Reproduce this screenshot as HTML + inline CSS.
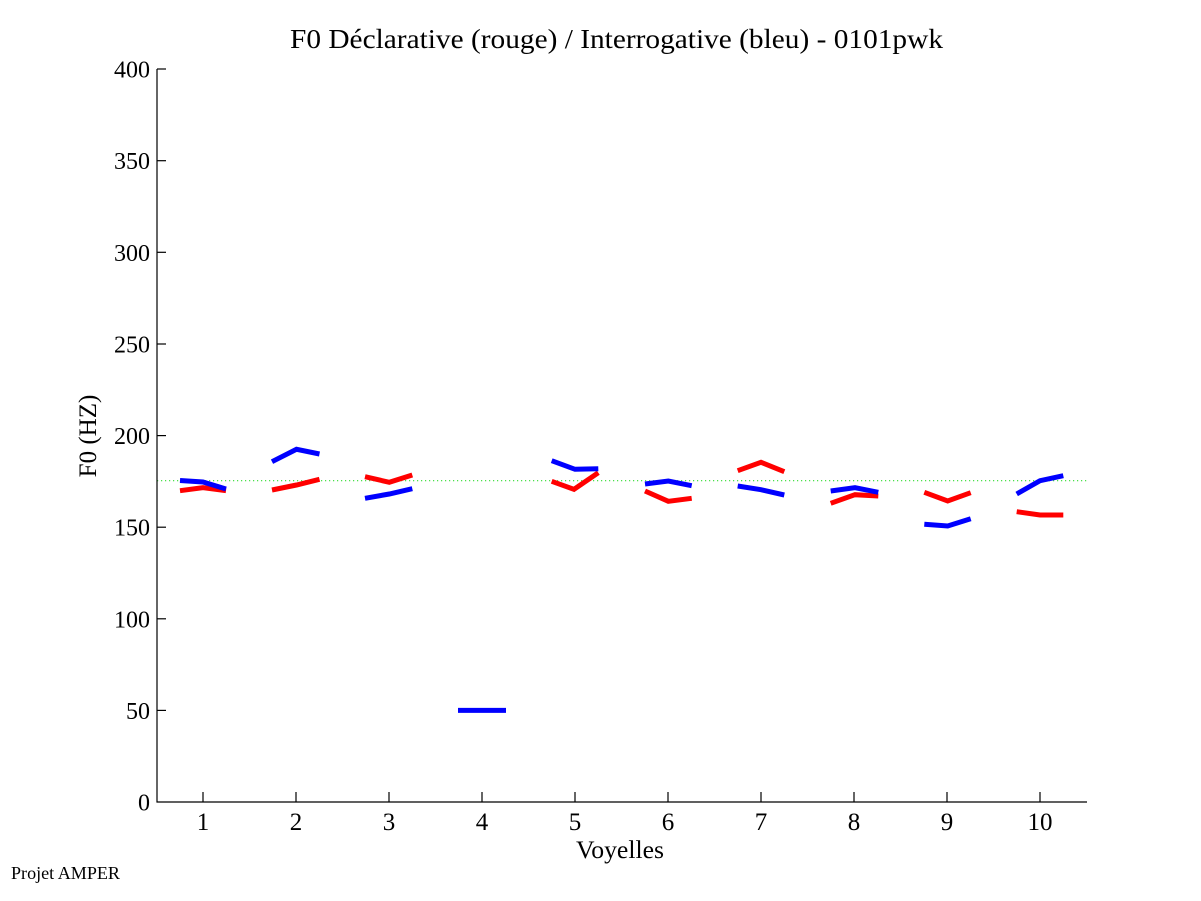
<!DOCTYPE html>
<html>
<head>
<meta charset="utf-8">
<style>
  html, body { margin: 0; padding: 0; background: #ffffff; }
  svg { display: block; }
  text { font-family: "Liberation Serif", "Times New Roman", serif; fill: #000; }
</style>
</head>
<body>
<svg width="1201" height="901" viewBox="0 0 1201 901" xmlns="http://www.w3.org/2000/svg">
  <rect x="0" y="0" width="1201" height="901" fill="#ffffff"/>

  <!-- Title -->
  <text x="290" y="48" font-size="27" textLength="653" lengthAdjust="spacingAndGlyphs">F0 Déclarative (rouge) / Interrogative (bleu) - 0101pwk</text>

  <!-- reference dotted line at 175 Hz -->
  <line x1="157" y1="480.7" x2="1087" y2="480.7" stroke="#33dd33" stroke-width="1.2" stroke-dasharray="1.2 2.8"/>

  <!-- Axes -->
  <line x1="157" y1="69" x2="157" y2="802.5" stroke="#000" stroke-width="1.2"/>
  <line x1="156.5" y1="802" x2="1087" y2="802" stroke="#000" stroke-width="1.2"/>

  <!-- Y ticks -->
  <g stroke="#000" stroke-width="1.2">
    <line x1="157" y1="69" x2="166" y2="69"/>
    <line x1="157" y1="160.7" x2="166" y2="160.7"/>
    <line x1="157" y1="252.3" x2="166" y2="252.3"/>
    <line x1="157" y1="344" x2="166" y2="344"/>
    <line x1="157" y1="435.6" x2="166" y2="435.6"/>
    <line x1="157" y1="527.2" x2="166" y2="527.2"/>
    <line x1="157" y1="618.8" x2="166" y2="618.8"/>
    <line x1="157" y1="710.4" x2="166" y2="710.4"/>
  </g>
  <g font-size="24" text-anchor="end">
    <text x="150" y="77.5">400</text>
    <text x="150" y="169.2">350</text>
    <text x="150" y="260.8">300</text>
    <text x="150" y="352.5">250</text>
    <text x="150" y="444">200</text>
    <text x="150" y="535.7">150</text>
    <text x="150" y="627.3">100</text>
    <text x="150" y="719">50</text>
    <text x="150" y="810.5">0</text>
  </g>

  <!-- X ticks -->
  <g stroke="#000" stroke-width="1.2">
    <line x1="203" y1="802" x2="203" y2="792"/>
    <line x1="296" y1="802" x2="296" y2="792"/>
    <line x1="389" y1="802" x2="389" y2="792"/>
    <line x1="482" y1="802" x2="482" y2="792"/>
    <line x1="575" y1="802" x2="575" y2="792"/>
    <line x1="668" y1="802" x2="668" y2="792"/>
    <line x1="761" y1="802" x2="761" y2="792"/>
    <line x1="854" y1="802" x2="854" y2="792"/>
    <line x1="947" y1="802" x2="947" y2="792"/>
    <line x1="1040" y1="802" x2="1040" y2="792"/>
  </g>
  <g font-size="25" text-anchor="middle">
    <text x="203" y="830">1</text>
    <text x="296" y="830">2</text>
    <text x="389" y="830">3</text>
    <text x="482" y="830">4</text>
    <text x="575" y="830">5</text>
    <text x="668" y="830">6</text>
    <text x="761" y="830">7</text>
    <text x="854" y="830">8</text>
    <text x="947" y="830">9</text>
    <text x="1040" y="830">10</text>
  </g>

  <!-- Axis labels -->
  <text x="576" y="858" font-size="25" textLength="88" lengthAdjust="spacingAndGlyphs">Voyelles</text>
  <text transform="translate(96,436) rotate(-90)" font-size="25" text-anchor="middle">F0 (HZ)</text>

  <!-- Footer -->
  <text x="11" y="879" font-size="18" textLength="109" lengthAdjust="spacingAndGlyphs">Projet AMPER</text>

  <!-- Series: red (déclarative) -->
  <g fill="none" stroke="#ff0000" stroke-width="5" stroke-linejoin="miter" stroke-linecap="butt">
    <polyline points="180,490.7 203,487.7 226,490.7"/>
    <polyline points="272,490 296.5,485 319.5,479.3"/>
    <polyline points="365,476.7 389.3,482.3 412.3,475"/>
    <polyline points="551.7,481.3 574,489.3 598.3,472.7"/>
    <polyline points="645,491 668.3,501.3 691.7,498.3"/>
    <polyline points="737.7,470.7 761,462.3 784.3,471.7"/>
    <polyline points="830.7,503.3 855,494.7 878.3,496"/>
    <polyline points="924.3,492.3 947.7,501 970.7,492.7"/>
    <polyline points="1016.7,511.7 1040,515 1063.3,515"/>
  </g>

  <!-- Series: blue (interrogative) -->
  <g fill="none" stroke="#0000ff" stroke-width="5" stroke-linejoin="miter" stroke-linecap="butt">
    <polyline points="180,480.5 203,482 226,489"/>
    <polyline points="272,461.7 296.5,449.3 319.5,454"/>
    <polyline points="365,498.3 389.3,494 412.3,488.7"/>
    <polyline points="458,710.4 482,710.4 506,710.4"/>
    <polyline points="551.7,460.7 575,469.3 598.3,468.7"/>
    <polyline points="645,484 668.3,481 691.7,485.7"/>
    <polyline points="737.7,486 761,489.7 784.3,495"/>
    <polyline points="830.7,491 855,487.7 878.3,492.3"/>
    <polyline points="924.3,524.3 947.7,526 970.7,518.7"/>
    <polyline points="1016.7,494 1040,480.7 1063.3,475.7"/>
  </g>
</svg>
</body>
</html>
